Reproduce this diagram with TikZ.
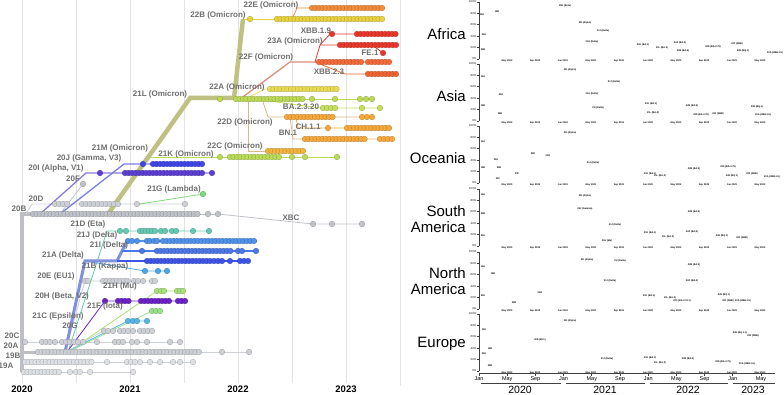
\documentclass[tikz,border=0pt]{standalone}
\usepackage{fontspec}
\setmainfont{Liberation Sans}
\usetikzlibrary{positioning}

\definecolor{labelgrey}{HTML}{6E6E6E}
\definecolor{gridgrey}{HTML}{E4E4E4}
\definecolor{trunkgrey}{HTML}{BDBFC4}
\definecolor{paleleaf}{HTML}{DDE0E4}
\definecolor{greyleaf}{HTML}{CDD0D5}
\definecolor{midleaf}{HTML}{BFC3C9}
\definecolor{leafalpha}{HTML}{5B3FD3}
\definecolor{leafgamma}{HTML}{4046E6}
\definecolor{leafA}{HTML}{3E55E6}
\definecolor{leafI}{HTML}{4C77E6}
\definecolor{leafJ}{HTML}{5092EA}
\definecolor{deltatrunk}{HTML}{8090E0}
\definecolor{leafeta}{HTML}{63C9B3}
\definecolor{leafkappa}{HTML}{4AA6E6}
\definecolor{leafmu}{HTML}{A8E07A}
\definecolor{leafiota}{HTML}{6A22C6}
\definecolor{leafCc}{HTML}{98E08A}
\definecolor{leafGg}{HTML}{56B5E3}
\definecolor{leaflambda}{HTML}{7FD87A}
\definecolor{leafK}{HTML}{B9DC57}
\definecolor{olivetrunk}{HTML}{BFC183}
\definecolor{leafBA2}{HTML}{BDDA55}
\definecolor{leafA22}{HTML}{E9DC55}
\definecolor{leafB}{HTML}{E8D23E}
\definecolor{leafBA}{HTML}{C6DE5E}
\definecolor{leafC}{HTML}{F3B33C}
\definecolor{leafD}{HTML}{F6A83A}
\definecolor{leafE}{HTML}{F28B3A}
\definecolor{leafF}{HTML}{F26B3A}
\definecolor{branchF}{HTML}{D9907A}
\definecolor{leafA23}{HTML}{E8382B}
\definecolor{leafXBB}{HTML}{F06432}
\definecolor{tanbranch}{HTML}{D9B98A}

\tikzset{
    x=1pt,
    y=-1pt,
    cladelabel/.style = {
        font=\fontsize{8}{9}\selectfont\bfseries,
        text=labelgrey,
        inner sep=0pt
    },
    yearlabel/.style = {
        font=\fontsize{9.5}{10}\selectfont\bfseries,
        inner sep=0pt
    },
    continent/.style = {
        font=\fontsize{15}{15.5}\selectfont,
        align=right,
        anchor=east,
        inner sep=0pt
    },
    minilabel/.style = {
        font=\fontsize{2.4}{2.7}\selectfont\bfseries,
        inner sep=0pt
    },
    pct/.style = {
        font=\fontsize{2.8}{3}\selectfont,
        anchor=east,
        inner sep=0pt
    },
    monthlabel/.style = {
        font=\fontsize{5.5}{6}\selectfont,
        inner sep=0pt
    },
    axisyear/.style = {
        font=\fontsize{10.5}{11}\selectfont,
        inner sep=0pt
    },
    gridline/.style = {draw=gridgrey, line width=0.8pt},
    trunk/.style = {draw=#1, line width=4.5pt},
    branch/.style = {draw=#1, line width=0.8pt},
    leaf/.style = {fill=#1, draw=#1!75!black, line width=0.3pt},
    panelaxis/.style = {draw=black!75, line width=0.7pt},
}

\newcommand{\leafrow}[3]{\foreach \tx in {#3} \path[leaf=#1] (\tx,#2) circle (2.8);}

\begin{document}
\begin{tikzpicture}
    \useasboundingbox (0,0) rectangle (784,395);

    \foreach \gx in {22,76,130,184,238,292,346}
        \path[gridline] (\gx,0) -- (\gx,383);
    \node[yearlabel] (y2020) at (22,389) {2020};
    \node[yearlabel] (y2021) at (130,389) {2021};
    \node[yearlabel] (y2022) at (238,389) {2022};
    \node[yearlabel] (y2023) at (346,389) {2023};
    \path[draw=gridgrey, line width=0.6pt] (400,0) -- (400,386);

    \path[branch=greyleaf] (22,372) -- (133,372);
    \path[branch=greyleaf] (22,362) -- (194,362);
    \path[branch=greyleaf] (22,342) -- (180,342);
    \path[branch=greyleaf] (65,352) -- (249,352);
    \path[trunk=trunkgrey] (22,372) -- (22,214) -- (108,214);
    \path[trunk=trunkgrey, line width=3pt] (22,352) -- (65,352);
    \path[branch=midleaf] (108,214) -- (220,214);
    \path[branch=greyleaf] (26,214) -- (32,204) -- (185,204);
    \path[branch=midleaf] (218,214) -- (313,224) -- (362,224);
    \path[branch=leaflambda] (140,204) -- (203,194);
    \path[branch=midleaf] (60,214) -- (83,184);
    \path[branch=leafalpha!70, line width=1.3pt] (40,214) -- (86,173) -- (212,173);
    \path[branch=leafgamma!70, line width=1.3pt] (60,214) -- (124,164) -- (203,164);

    \path[branch=greyleaf] (65,352) -- (85,281) -- (155,281);
    \path[branch=leafeta] (68,352) -- (107,231) -- (209,231);
    \path[branch=leafmu] (68,352) -- (157,291) -- (183,291);
    \path[branch=leafiota] (67,352) -- (105,301) -- (188,301);
    \path[branch=leafCc] (68,352) -- (152,311) -- (160,311);
    \path[branch=leafGg] (66,352) -- (128,321) -- (147,321);
    \path[branch=greyleaf] (66,352) -- (103,331) -- (152,331);
    \path[branch=leafkappa] (85,261) -- (145,271) -- (167,271);
    \path[trunk=deltatrunk, line width=3pt] (65,352) -- (85,261) -- (117,261) -- (127,241);
    \path[branch=leafA, line width=1.5pt] (117,261) -- (248,261);
    \path[branch=leafI, line width=1.5pt] (122,251) -- (256,251);
    \path[branch=leafJ, line width=1.2pt] (127,241) -- (257,241);

    \path[branch=leafK] (150,157) -- (337,157);
    \path[branch=leafBA2] (234,99) -- (372,99);
    \path[branch=leafB] (243,19) -- (382,19);
    \path[branch=leafE] (292,19) -- (297,8) -- (385,8);
    \path[branch=leafA22] (245,99) -- (265,89) -- (337,89);
    \path[branch=branchF, line width=1.3pt] (240,99) -- (290,62) -- (392,62);
    \path[branch=leafA23] (315,62) -- (320,45) -- (398,45);
    \path[branch=leafA23] (320,45) -- (330,34) -- (398,34);
    \path[branch=leafA23] (372,45) -- (383,53);
    \path[branch=leafXBB] (315,62) -- (345,74) -- (398,74);
    \path[branch=tanbranch] (248,99) -- (248,151) -- (305,151);
    \path[branch=tanbranch] (262,99) -- (268,117) -- (372,117);
    \path[branch=leafBA] (255,99) -- (320,108) -- (382,108);
    \path[branch=leafD] (296,117) -- (298,128) -- (392,128);
    \path[branch=tanbranch] (290,117) -- (293,139) -- (392,139);
    \path[trunk=olivetrunk] (108,214) -- (190,98) -- (234,98) -- (243,19);

    \leafrow{paleleaf}{372}{24,27.5,...,62,70,76,80,90,133}
    \leafrow{paleleaf}{362}{25,28.5,...,92,107,127,131,135,140,150,160,173,180,193}
    \leafrow{greyleaf}{352}{38,41.5,...,200,222,249}
    \leafrow{greyleaf}{342}{25,42,46,50,55,62,66,70,74,78,83,97,115,119,123,132,137,147,170,180}
    \leafrow{greyleaf}{331}{104,108,113,120,124,128,133,140,144,148,152}
    \leafrow{leafGg}{321}{128,133,137,147}
    \leafrow{leafCc}{311}{152,156,160}
    \leafrow{leafiota}{301}{105,118,121.5,...,130,141,144.5,...,170,178,181.5,...,188}
    \leafrow{leafmu}{291}{157,161,164,177,180,183}
    \leafrow{greyleaf}{281}{85,88,103,106.5,...,130,134,138,143,152,155}
    \leafrow{leafkappa}{271}{145,158,167}
    \leafrow{leafA}{261}{147,150.5,...,210,214,218,222,230,240,244,248}
    \leafrow{leafI}{251}{142,157,160.5,...,233,238,242,256}
    \leafrow{leafJ}{241}{128,132,137,147,150,154,157,163,166.5,...,257}
    \leafrow{leafeta}{231}{120,126,140,143,146,149,152,155,161,165,172,176,193,209}
    \leafrow{midleaf}{214}{33,36.5,...,200,208,218}
    \leafrow{greyleaf}{204}{55,59,63,67,82,86,...,120,137,185}
    \leafrow{midleaf}{224}{313,332,362}
    \leafrow{leaflambda}{194}{203}
    \leafrow{midleaf}{184}{83}
    \leafrow{leafalpha}{173}{100,125,128.5,...,203,212}
    \leafrow{leafgamma}{164}{143,153,156.5,...,203}
    \leafrow{leafK}{157}{220,230,233.5,...,282,292,305,337}
    \leafrow{leafC}{151}{268,271.5,...,305}
    \leafrow{leafD}{139}{305,308.5,...,367,380,384,388,392}
    \leafrow{leafD}{128}{328,347,350.5,...,392}
    \leafrow{leafD}{117}{287,290.5,...,335,362,367,372}
    \leafrow{leafBA}{108}{323,327,331,335,362,380}
    \leafrow{leafBA2}{99}{220,236,239.5,...,305,312,335,360,366,372}
    \leafrow{leafA22}{89}{270,273.5,...,337}
    \leafrow{leafXBB}{74}{368,371.5,...,398}
    \leafrow{leafF}{62}{319,322.5,...,363,368,371.5,...,392}
    \leafrow{leafA23}{53}{383}
    \leafrow{leafA23}{45}{340,343.5,...,398}
    \leafrow{leafA23}{34}{332,357,360.5,...,398}
    \leafrow{leafB}{19}{250,277,280.5,...,382}
    \leafrow{leafE}{8}{312,315.5,...,385}

    \node[cladelabel] (l22E) at (271,5) {22E (Omicron)};
    \node[cladelabel] (l22B) at (218,15) {22B (Omicron)};
    \node[cladelabel] (lXBB19) at (316,31) {XBB.1.9};
    \node[cladelabel] (l23A) at (295,41) {23A (Omicron)};
    \node[cladelabel] (lFE1) at (370,53) {FE.1};
    \node[cladelabel] (l22F) at (266,57) {22F (Omicron)};
    \node[cladelabel] (lXBB23) at (329,72) {XBB.2.3};
    \node[cladelabel] (l22A) at (237,87) {22A (Omicron)};
    \node[cladelabel] (l21L) at (160,94) {21L (Omicron)};
    \node[cladelabel] (lBA2320) at (301,107) {BA.2.3.20};
    \node[cladelabel] (l22D) at (245,122) {22D (Omicron)};
    \node[cladelabel] (lCH11) at (308,127) {CH.1.1};
    \node[cladelabel] (lBN1) at (288,133) {BN.1};
    \node[cladelabel] (l22C) at (235,146) {22C (Omicron)};
    \node[cladelabel] (l21M) at (120,148) {21M (Omicron)};
    \node[cladelabel] (l21K) at (186,154) {21K (Omicron)};
    \node[cladelabel] (l20J) at (89,158) {20J (Gamma, V3)};
    \node[cladelabel] (l20I) at (56,168) {20I (Alpha, V1)};
    \node[cladelabel] (l20F) at (73,179) {20F};
    \node[cladelabel] (l21G) at (174,189) {21G (Lambda)};
    \node[cladelabel] (l20D) at (36,199) {20D};
    \node[cladelabel] (l20B) at (19,209) {20B};
    \node[cladelabel] (lXBC) at (291,218) {XBC};
    \node[cladelabel] (l21D) at (88,224) {21D (Eta)};
    \node[cladelabel] (l21J) at (97,235) {21J (Delta)};
    \node[cladelabel] (l21I) at (109,245) {21I (Delta)};
    \node[cladelabel] (l21A) at (63,255) {21A (Delta)};
    \node[cladelabel] (l21B) at (105,266) {21B (Kappa)};
    \node[cladelabel] (l20E) at (56,276) {20E (EU1)};
    \node[cladelabel] (l21H) at (120,286) {21H (Mu)};
    \node[cladelabel] (l20H) at (62,296) {20H (Beta, V2)};
    \node[cladelabel] (l21F) at (105,306) {21F (Iota)};
    \node[cladelabel] (l21C) at (58,316) {21C (Epsilon)};
    \node[cladelabel] (l20G) at (70,326) {20G};
    \node[cladelabel] (l20C) at (12,336) {20C};
    \node[cladelabel] (l20A) at (11,346) {20A};
    \node[cladelabel] (l19B) at (13,356) {19B};
    \node[cladelabel] (l19A) at (6,366) {19A};

    \node[continent] (africa) at (466,34) {Africa};
    \node[continent] (asia) at (466,96) {Asia};
    \node[continent] (oceania) at (466,158) {Oceania};
    \node[continent] (samerica) at (466,219) {South\\America};
    \node[continent] (namerica) at (466,281) {North\\America};
    \node[continent] (europe) at (466,344) {Europe};

    \foreach \ptop in {2,64,126,189,252,314} {
        \path[panelaxis] (479,\ptop) -- (479,\ptop+57);
        \foreach \pc in {0,20,...,100} {
            \pgfmathsetmacro{\py}{\ptop+57-0.57*\pc}
            \path[panelaxis] (477,\py) -- (479,\py);
            \node[pct] (pct-\ptop-\pc) at (476.5,\py) {\pc\%};
        }
        \foreach \mx/\mt in {507/May 2020,535/Sep 2020,563/Jan 2021,591/May 2021,619/Sep 2021,648/Jan 2022,676/May 2022,704/Sep 2022,732/Jan 2023,760/May 2023}
            \node[minilabel] (tick-\ptop-\mx) at (\mx,\ptop+58.5) {\mt};
    }

    \foreach \lx/\ly/\lt in {482/15/19A,497/12/19B,484/35/20A,483/50/20B,565/6/20H (Beta),585/23/20I (Alpha),603/31/21J (Delta),592/42/21A (Delta),643/45/21K (BA.1),662/48/21L (BA.2),680/43/22A (BA.4),683/51/22B (BA.5),713/47/22D (BA.2.75),737/44/22F (XBB),743/51/22E (BQ.1),775/53/23A (XBB.1.5),
        483/77/19A,501/95/20A,483/106/19B,500/114/20B,570/70/20I (Alpha),614/82/21J (Delta),592/94/21A (Delta),598/108/21I (Delta),651/104/21K (BA.1),653/113/21L (BA.2),692/106/22B (BA.5),701/115/22D (BA.2.75),718/114/22F (XBB),757/107/22E (BQ.1),763/115/23A (XBB.1.5),
        483/142/19A,496/160/20A,483/168/19B,499/168/20B,498/179/20C,517/174/20F,533/154/20D,548/156/20G,570/133/20I (Alpha),593/163/21J (Delta),650/174/21K (BA.1),660/176/21L (BA.2),694/169/22B (BA.5),728/167/22D (BA.2.75),732/176/22E (BQ.1),752/174/22F (XBB),772/177/23A (XBB.1.5),
        483/195/19A,483/214/20B,483/236/20A,585/196/20I (Alpha),585/209/20J (Gamma),615/225/21J (Delta),607/241/21H (Mu),650/233/21K (BA.1),668/237/21L (BA.2),694/212/22B (BA.5),692/232/22A (BA.4),722/236/22E (BQ.1),742/238/22F (XBB),
        483/267/19A,493/274/19B,483/296/20A,514/303/20B,540/293/20G,587/260/20I (Alpha),620/261/21I (Delta),610/281/21J (Delta),649/296/21K (BA.1),670/298/21L (BA.2),682/301/22C (BA.2.12.1),694/265/22B (BA.5),692/281/22A (BA.4),724/295/22E (BQ.1),728/301/22F (XBB),743/301/23A (XBB.1.5),
        484/330/19A,490/349/19B,484/354/20A,490/366/20B,540/340/20E (EU1),570/321/20I (Alpha),607/359/21J (Delta),650/358/21K (BA.1),660/363/21L (BA.2),688/359/22B (BA.5),740/333/22E (BQ.1.1),753/336/22F (XBB),723/362/22D (BA.2.75),747/364/23A (XBB.1.5)}
        \node[minilabel] (share-\lx-\ly) at (\lx,\ly) {\lt};

    \path[panelaxis] (479,373) -- (775,373);
    \foreach \k/\mn in {0/Jan,1/May,2/Sep,3/Jan,4/May,5/Sep,6/Jan,7/May,8/Sep,9/Jan,10/May} {
        \path[panelaxis] (479+28.2*\k,373) -- ++(0,2.5);
        \node[monthlabel] (month-\k) at (479+28.2*\k,379) {\mn};
    }
    \path[panelaxis] (481,383) -- (561,383);
    \path[panelaxis] (566,383) -- (645,383);
    \path[panelaxis] (650,383) -- (728,383);
    \path[panelaxis] (733,383) -- (775,383);
    \node[axisyear] (x2020) at (520,390) {2020};
    \node[axisyear] (x2021) at (605,390) {2021};
    \node[axisyear] (x2022) at (688,390) {2022};
    \node[axisyear] (x2023) at (753,390) {2023};
\end{tikzpicture}
\end{document}
